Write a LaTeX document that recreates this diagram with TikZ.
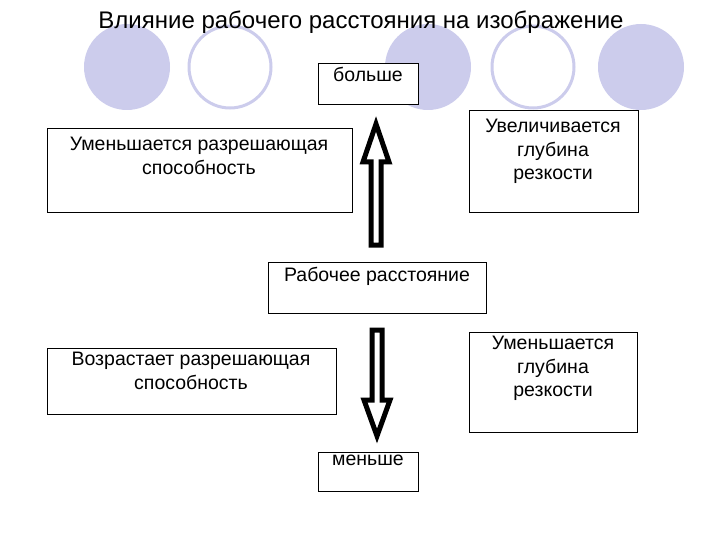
\documentclass[tikz,border=0pt]{standalone}
\usepackage{fontspec}
\setmainfont{Liberation Sans}
\definecolor{lav}{RGB}{204,204,236}
\begin{document}
\begin{tikzpicture}[x=1pt,y=-1pt,
 box/.style={draw=black,line width=0.8pt,fill=white,anchor=north west,inner sep=0pt},
 txt/.style={align=center,font=\fontsize{19.5}{23.5}\selectfont,inner sep=0pt,anchor=north},
 fc/.style={fill=lav,draw=none},
 oc/.style={draw=lav,line width=3pt,fill=white},
 arr/.style={draw=black,line width=5pt,fill=white,line join=miter}]
\useasboundingbox (0,0) rectangle (720,540);
\fill[fc] (127,67) circle (43);
\draw[oc] (230,67) circle (41);
\fill[fc] (428,67) circle (43);
\draw[oc] (533,67) circle (41);
\fill[fc] (641,67) circle (43);
\node[font=\fontsize{24}{26}\selectfont,anchor=north] (title) at (361,7) {Влияние рабочего расстояния на изображение};
\node[box,minimum width=100,minimum height=41] (b1) at (318,63) {};
\node[txt] (t1) at (368,67) {больше};
\node[box,minimum width=305,minimum height=84] (b2) at (47,128) {};
\node[txt] (t2) at (199,137) {Уменьшается разрешающая\\способность};
\node[box,minimum width=169,minimum height=102] (b3) at (469,110) {};
\node[txt] (t3) at (553,119) {Увеличивается\\глубина\\резкости};
\node[box,minimum width=218,minimum height=51] (b4) at (268,262) {};
\node[txt] (t4) at (377,267) {Рабочее расстояние};
\node[box,minimum width=289,minimum height=66] (b5) at (47,348) {};
\node[txt] (t5) at (191,352) {Возрастает разрешающая\\способность};
\node[box,minimum width=168,minimum height=100] (b6) at (469,332) {};
\node[txt] (t6) at (553,336) {Уменьшается\\глубина\\резкости};
\node[box,minimum width=100,minimum height=39] (b7) at (318,452) {};
\node[txt] (t7) at (368,455) {меньше};
\draw[arr] (376,124) -- (389,162) -- (381,162) -- (381,245) -- (371,245) -- (371,162) -- (363,162) -- cycle;
\draw[arr] (377,436) -- (390,400) -- (382,400) -- (382,330) -- (372,330) -- (372,400) -- (364,400) -- cycle;
\end{tikzpicture}
\end{document}
